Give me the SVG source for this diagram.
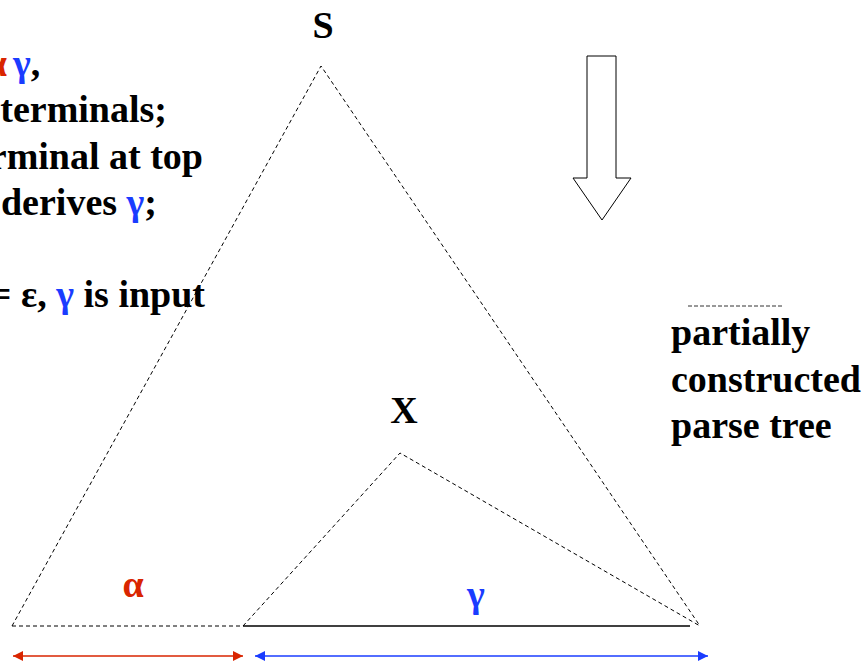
<svg xmlns="http://www.w3.org/2000/svg" width="868" height="661" viewBox="0 0 868 661">
<style>
.t{font-family:"Liberation Serif","Times New Roman",serif;font-weight:bold;font-size:38px;fill:#000}
.red{fill:#d92500}
.blue{fill:#1a3cff}
.d{fill:none;stroke:#000;stroke-width:1;stroke-dasharray:4 3}
</style>
<defs>
<marker id="ar" viewBox="0 0 10 10" refX="10" refY="5" markerWidth="10" markerHeight="10" markerUnits="userSpaceOnUse" orient="auto-start-reverse"><path d="M0,0 L10,5 L0,10 z" fill="#d92500"/></marker>
<marker id="ab" viewBox="0 0 10 10" refX="10" refY="5" markerWidth="10" markerHeight="10" markerUnits="userSpaceOnUse" orient="auto-start-reverse"><path d="M0,0 L10,5 L0,10 z" fill="#1a3cff"/></marker>
</defs>
<rect width="868" height="661" fill="#fff"/>
<g id="left-text" class="t">
<text x="7" y="76" text-anchor="end" class="red">α</text>
<text x="13" y="76"><tspan class="blue">γ</tspan>,</text>
<text x="167" y="122" text-anchor="end">terminals;</text>
<text x="203" y="169" text-anchor="end">rminal at top</text>
<text x="157" y="215" text-anchor="end">derives <tspan class="blue">γ</tspan>;</text>
<text x="205" y="307" text-anchor="end">= ε, <tspan class="blue">γ</tspan> is input</text>
</g>
<g id="tree">
<path class="d" d="M12,626 L321,66 L700,626"/>
<path class="d" d="M12,626 L243,626"/>
<path d="M243,626 L690,626" stroke="#000" stroke-width="1.5" fill="none"/>
<path class="d" d="M243,626 L400,453 L700,626"/>
</g>
<g id="S"><text class="t" x="323" y="38" text-anchor="middle">S</text></g>
<g id="X"><text class="t" x="404" y="423" text-anchor="middle">X</text></g>
<g id="alpha"><text class="t red" x="133" y="597" text-anchor="middle">α</text></g>
<g id="gamma"><text class="t blue" x="476" y="607" text-anchor="middle">γ</text></g>
<g id="down-arrow"><path d="M587,56 L616,56 L616,178 L631,178 L602,220 L573,178 L587,178 Z" fill="#fff" stroke="#000" stroke-width="1"/></g>
<g id="label">
<path d="M688,306 L783,306" stroke="#333" stroke-width="1" stroke-dasharray="4 2"/>
<text class="t" x="671" y="345">partially</text>
<text class="t" x="671" y="392">constructed</text>
<text class="t" x="671" y="438">parse tree</text>
</g>
<g id="connectors">
<line x1="13" y1="656" x2="243" y2="656" stroke="#d92500" stroke-width="1.5" marker-start="url(#ar)" marker-end="url(#ar)"/>
<line x1="255" y1="656" x2="708" y2="656" stroke="#1a3cff" stroke-width="1.5" marker-start="url(#ab)" marker-end="url(#ab)"/>
</g>
</svg>
